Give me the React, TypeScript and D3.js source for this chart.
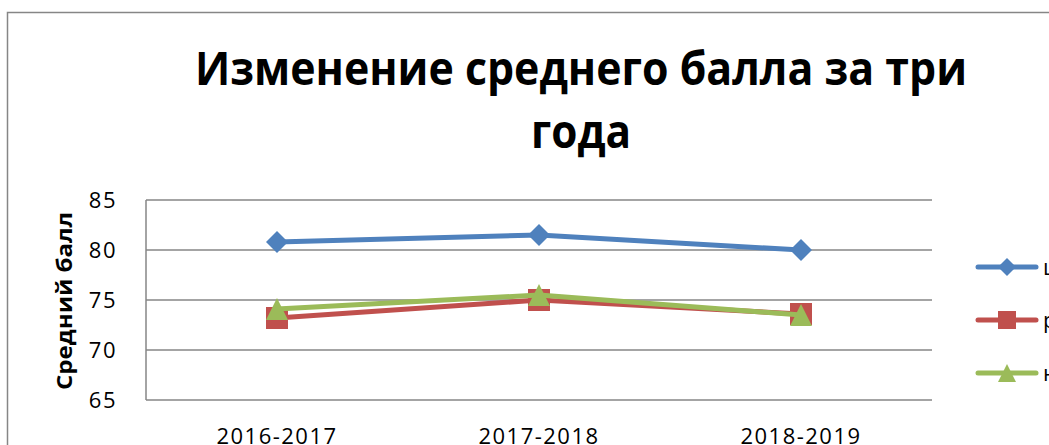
import React from "react";
import * as d3 from "d3";

const categories = ["2016-2017", "2017-2018", "2018-2019"];
const seriesNames = ["школа", "район", "нац."];
const schoolValues = [80.8, 81.5, 80.0];
const districtValues = [73.2, 75.0, 73.6];
const nationalValues = [74.1, 75.5, 73.5];
const yTicks = [65, 70, 75, 80, 85];
const titleLines = ["Изменение среднего балла за три", "года"];
const yAxisTitle = "Средний балл";

const colors = ["#4F81BD", "#C0504D", "#9BBB59"];
const markers = ["diamond", "square", "triangle"];

const W = 1049;
const H = 445;
const plot = { left: 146, right: 932, top: 200, bottom: 400 };

function Marker({ type, x, y, size, color }: { type: string; x: number; y: number; size: number; color: string }) {
  const h = size / 2;
  if (type === "diamond") {
    return <path d={`M${x},${y - h}L${x + h},${y}L${x},${y + h}L${x - h},${y}Z`} fill={color} />;
  }
  if (type === "square") {
    return <rect x={x - h} y={y - h} width={size} height={size} fill={color} />;
  }
  return <path d={`M${x},${y - h}L${x + h},${y + h}L${x - h},${y + h}Z`} fill={color} />;
}

export default function App() {
  const x = d3.scaleBand().domain(categories).range([plot.left, plot.right]);
  const y = d3.scaleLinear().domain([65, 85]).range([plot.bottom, plot.top]);
  const cx = (c: string) => (x(c) as number) + x.bandwidth() / 2;
  const series = [schoolValues, districtValues, nationalValues];
  const line = d3
    .line<number>()
    .x((_, i) => cx(categories[i]))
    .y((d) => y(d));
  const legendY = [267, 320, 373];

  return (
    <svg
      width={W}
      height={H}
      style={{ position: "absolute", left: 0, top: 0, background: "#fff" }}
      fontFamily="'Open Sans', sans-serif"
    >
      <rect x={0} y={0} width={W} height={H} fill="#fff" />
      {/* chart border */}
      <path d={`M7.5,${H + 5}L7.5,12.5L${W + 5},12.5`} fill="none" stroke="#868686" strokeWidth={1.5} />
      {/* title */}
      <text x={581} y={85} textAnchor="middle" fontWeight="bold" fontSize={46} textLength={772} lengthAdjust="spacingAndGlyphs" fill="#000">
        {titleLines[0]}
      </text>
      <text x={581} y={148} textAnchor="middle" fontWeight="bold" fontSize={46} textLength={100} lengthAdjust="spacingAndGlyphs" fill="#000">
        {titleLines[1]}
      </text>
      {/* gridlines */}
      {yTicks.map((t) => (
        <line key={t} x1={plot.left} x2={plot.right} y1={y(t)} y2={y(t)} stroke="#868686" strokeWidth={1.5} />
      ))}
      <line x1={plot.left} x2={plot.left} y1={plot.top} y2={plot.bottom} stroke="#868686" strokeWidth={1.5} />
      {/* y tick labels */}
      {yTicks.map((t) => (
        <text key={t} x={117} y={y(t) + 8} textAnchor="end" fontSize={22} letterSpacing={1.5} fill="#000">
          {t}
        </text>
      ))}
      {/* y axis title */}
      <text
        transform={`translate(72,301) rotate(-90)`}
        textAnchor="middle"
        fontWeight="bold"
        fontSize={22}
        textLength={178}
        lengthAdjust="spacingAndGlyphs"
        fill="#000"
      >
        {yAxisTitle}
      </text>
      {/* x labels */}
      {categories.map((c) => (
        <text key={c} x={cx(c)} y={444} textAnchor="middle" fontSize={22} letterSpacing={1.5} fill="#000">
          {c}
        </text>
      ))}
      {/* series */}
      {series.map((vals, si) => (
        <g key={si}>
          <path d={line(vals) || ""} fill="none" stroke={colors[si]} strokeWidth={5} strokeLinejoin="round" strokeLinecap="round" />
          {vals.map((v, i) => (
            <Marker key={i} type={markers[si]} x={cx(categories[i])} y={y(v)} size={22} color={colors[si]} />
          ))}
        </g>
      ))}
      {/* legend */}
      {seriesNames.map((n, i) => (
        <g key={n}>
          <line x1={978} x2={1036} y1={legendY[i]} y2={legendY[i]} stroke={colors[i]} strokeWidth={5} strokeLinecap="round" />
          <Marker type={markers[i]} x={1007} y={legendY[i]} size={18} color={colors[i]} />
          <text x={1043} y={legendY[i] + 8} fontSize={22} fill="#000">
            {n}
          </text>
        </g>
      ))}
    </svg>
  );
}
